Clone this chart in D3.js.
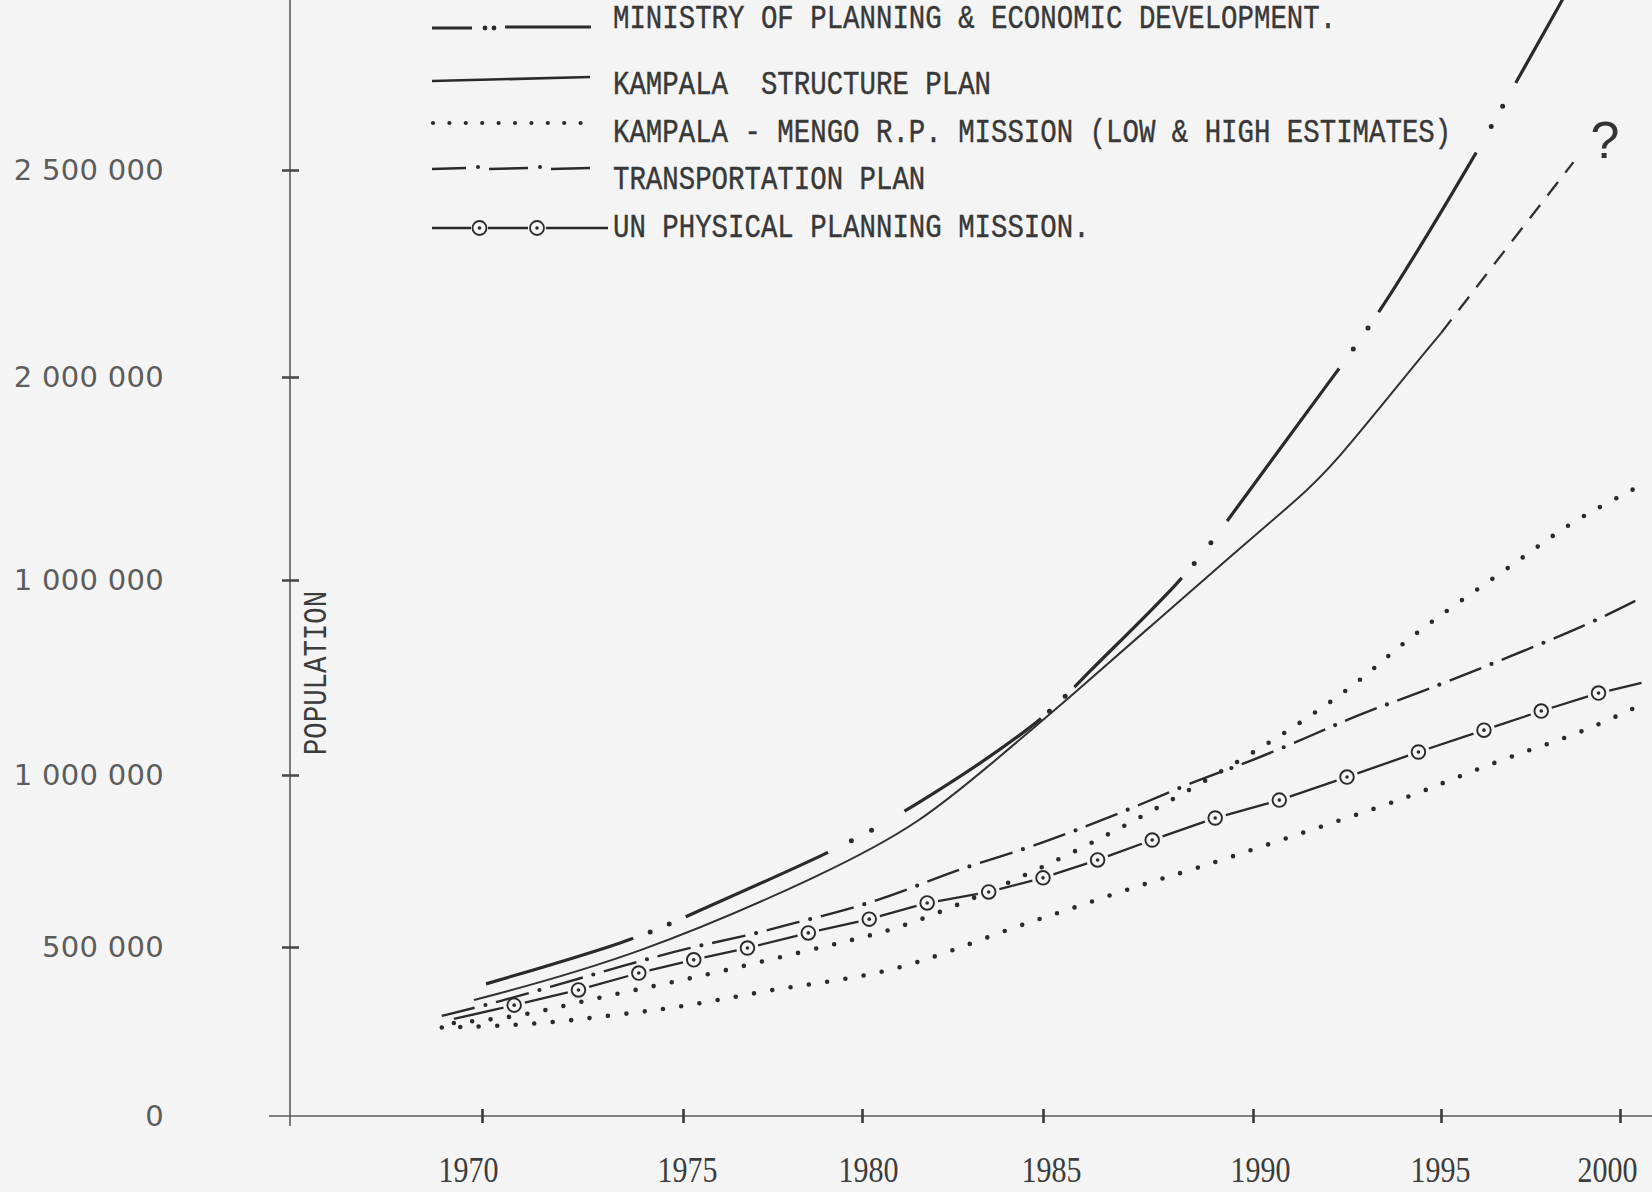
<!DOCTYPE html>
<html>
<head>
<meta charset="utf-8">
<script src="https://cdn.jsdelivr.net/npm/d3@7"></script>
<style>
html,body{margin:0;padding:0;background:#f4f4f4;}
svg{display:block;}
</style>
</head>
<body>
<svg id="chart" width="1652" height="1192"></svg>
<script>
// ---------------- DATA ----------------
const xTickYears  = [1970, 1975, 1980, 1985, 1990, 1995, 2000];
const xTickLabels = ["1970", "1975", "1980", "1985", "1990", "1995", "2000"];
const yTickValues = [0, 500000, 1000000, 1500000, 2000000, 2500000];
const yTickLabels = ["0", "500 000", "1 000 000", "1 000 000", "2 000 000", "2 500 000"];
const yAxisTitle  = "POPULATION";

const legendLabels = [
  "MINISTRY OF PLANNING & ECONOMIC DEVELOPMENT.",
  "KAMPALA  STRUCTURE PLAN",
  "KAMPALA - MENGO R.P. MISSION (LOW & HIGH ESTIMATES)",
  "TRANSPORTATION PLAN",
  "UN PHYSICAL PLANNING MISSION."
];

// Ministry of Planning & Economic Development
const ministryYears  = [1970.1, 1973.8, 1975.1, 1979.1, 1981.2, 1985.0, 1985.8, 1988.4, 1989.4, 1992.3, 1993.4, 1996.0, 1997.1, 1998.4, 1999.0];
const ministryValues = [391000, 520000, 590000, 773000, 890000, 1136000, 1236000, 1505000, 1648000, 2022000, 2157000, 2541000, 2713000, 2911000, 3010000];

// Kampala Structure Plan (solid part, then dashed uncertain part ending with "?")
const structureYears  = [1969.8, 1973.8, 1979.1, 1981.6, 1983.6, 1985.7, 1987.6, 1989.5, 1991.2, 1992.1, 1994.4, 1995.0];
const structureValues = [343000, 470000, 718000, 860000, 1031000, 1205000, 1385000, 1562000, 1700000, 1778000, 2041000, 2106000];
const structureDashYears  = [1995.0, 1996.9, 1998.7];
const structureDashValues = [2106000, 2319000, 2519000];

// Kampala - Mengo R.P. Mission, high estimate
const mengoHighYears  = [1969.3, 1970.9, 1972.3, 1973.8, 1975.4, 1977.4, 1979.5, 1981.2, 1983.8, 1985.7, 1987.2, 1988.7, 1990.2, 1991.3, 1992.9, 1993.9, 1995.5, 1997.2, 1998.5, 1999.8, 2000.6];
const mengoHighValues = [275000, 293000, 334000, 373000, 411000, 462000, 515000, 558000, 674000, 773000, 869000, 971000, 1069000, 1136000, 1244000, 1333000, 1444000, 1549000, 1635000, 1697000, 1734000];

// Kampala - Mengo R.P. Mission, low estimate
const mengoLowYears  = [1969.0, 1970.4, 1971.9, 1973.3, 1974.6, 1976.0, 1977.6, 1979.2, 1980.8, 1982.4, 1984.2, 1985.6, 1987.1, 1988.7, 1990.5, 1992.5, 1994.3, 1995.8, 1997.4, 1998.8, 2000.1, 2000.6];
const mengoLowValues = [262000, 266000, 278000, 299000, 317000, 343000, 376000, 399000, 429000, 485000, 558000, 608000, 672000, 730000, 802000, 875000, 942000, 1008000, 1062000, 1105000, 1159000, 1180000];

// Transportation Plan
const transportYears  = [1969.0, 1970.4, 1972.1, 1973.6, 1975.1, 1976.9, 1978.1, 1979.8, 1981.4, 1982.6, 1984.6, 1985.8, 1987.2, 1988.5, 1989.9, 1991.6, 1992.9, 1994.5, 1996.9, 1999.1, 2000.7];
const transportValues = [296000, 337000, 396000, 447000, 497000, 535000, 570000, 613000, 672000, 724000, 788000, 840000, 907000, 977000, 1033000, 1103000, 1159000, 1213000, 1303000, 1385000, 1459000];

// UN Physical Planning Mission (circled points)
const unYears  = [1969.3, 1970.8, 1972.4, 1973.9, 1975.3, 1976.8, 1978.5, 1980.2, 1981.8, 1983.5, 1985.0, 1986.3, 1987.6, 1989.1, 1990.7, 1992.5, 1994.4, 1996.2, 1997.8, 1999.4, 2000.6];
const unValues = [287000, 328000, 373000, 423000, 462000, 497000, 541000, 581000, 628000, 660000, 701000, 753000, 811000, 875000, 927000, 994000, 1059000, 1115000, 1164000, 1210000, 1236000];

// ---------------- CHART ----------------
const W = 1652, H = 1192;
const BG = "#f4f4f4", INK = "#2a2a2a", AXIS = "#5a5a5a";
const svg = d3.select("#chart");
svg.append("rect").attr("width", W).attr("height", H).attr("fill", BG);

// hand-drawn (uneven) axis spacing: piecewise linear scales through the drawn ticks
const x = d3.scaleLinear().domain(xTickYears).range([482, 683, 862, 1043, 1253, 1441, 1620]);
const y = d3.scaleLinear().domain(yTickValues).range([1116, 947, 775, 580, 377, 170]);
const X0 = 290, Y0 = 1116;

// axis lines
svg.append("line").attr("x1", X0).attr("x2", X0).attr("y1", 0).attr("y2", Y0 + 10)
  .attr("stroke", AXIS).attr("stroke-width", 1.6);
svg.append("line").attr("x1", 269).attr("x2", W).attr("y1", Y0).attr("y2", Y0)
  .attr("stroke", AXIS).attr("stroke-width", 1.6);

// y axis
const gy = svg.append("g").attr("transform", `translate(${X0},0)`)
  .call(d3.axisLeft(y).tickValues(yTickValues).tickFormat((d, i) => yTickLabels[i]).tickSize(0).tickPadding(126));
gy.select(".domain").remove();
gy.selectAll("text").attr("font-family", "'DejaVu Sans', sans-serif").attr("font-size", 29)
  .attr("fill", "#5c5c5c").attr("letter-spacing", 0.3);
gy.selectAll(".tick").filter(d => d > 0).append("line").attr("x1", -8).attr("x2", 9)
  .attr("stroke", "#4a4a4a").attr("stroke-width", 2.6);

// x axis (labels nudged as hand-lettered in the original)
const xLabelShift = [-14, 4, 6, 8, 7, -1, -13];
const gx = svg.append("g").attr("transform", `translate(0,${Y0})`)
  .call(d3.axisBottom(x).tickValues(xTickYears).tickFormat((d, i) => xTickLabels[i]).tickSize(0).tickPadding(41));
gx.select(".domain").remove();
gx.selectAll("text").attr("font-family", "'Liberation Serif', serif").attr("font-size", 35)
  .attr("fill", "#3c3c3c").attr("textLength", 60).attr("lengthAdjust", "spacingAndGlyphs")
  .attr("dx", (d, i) => xLabelShift[i]);
gx.selectAll(".tick").append("line").attr("y1", -7).attr("y2", 7)
  .attr("stroke", "#3a3a3a").attr("stroke-width", 2.6);

// y axis title
svg.append("text").attr("transform", `translate(316,673) rotate(-90) scale(1,1.2)`)
  .attr("text-anchor", "middle").attr("y", 8)
  .attr("font-family", "'Liberation Mono', monospace").attr("font-size", 27.4)
  .attr("fill", "#3c3c3c").text(yAxisTitle);

// ---------------- SERIES ----------------
const pts = (ys, vs) => ys.map((t, i) => ({ t: t, v: vs[i] }));
const line = d3.line().x(d => x(d.t)).y(d => y(d.v)).curve(d3.curveBasis);
const plot = svg.append("g");

// Kampala-Mengo low & high (dotted)
[pts(mengoLowYears, mengoLowValues), pts(mengoHighYears, mengoHighValues)].forEach(p => {
  plot.append("path").attr("d", line(p)).attr("fill", "none").attr("stroke", INK)
    .attr("stroke-width", 4.6).attr("stroke-linecap", "round").attr("stroke-dasharray", "0 18.5");
});

// Transportation plan (dash-dot)
const tp = pts(transportYears, transportValues);
plot.append("path").attr("d", line(tp)).attr("fill", "none").attr("stroke", INK)
  .attr("stroke-width", 2.4).attr("stroke-dasharray", "34 22");
plot.append("path").attr("d", line(tp)).attr("fill", "none").attr("stroke", INK)
  .attr("stroke-width", 4.2).attr("stroke-linecap", "round")
  .attr("stroke-dasharray", "0 56").attr("stroke-dashoffset", -45);

// UN physical planning mission (dash with circles)
const un = pts(unYears, unValues);
const gap = 11;
for (let i = 0; i < un.length - 1; i++) {
  const x1 = x(un[i].t), y1 = y(un[i].v), x2 = x(un[i + 1].t), y2 = y(un[i + 1].v);
  const L = Math.hypot(x2 - x1, y2 - y1), ux = (x2 - x1) / L, uy = (y2 - y1) / L;
  const g1 = i === 0 ? 0 : gap, g2 = (i + 1 === un.length - 1) ? 0 : gap;
  plot.append("line").attr("x1", x1 + ux * g1).attr("y1", y1 + uy * g1)
    .attr("x2", x2 - ux * g2).attr("y2", y2 - uy * g2)
    .attr("stroke", INK).attr("stroke-width", 2.3);
}
const unMarks = plot.selectAll("g.unmark").data(un.slice(1, un.length - 1)).join("g")
  .attr("transform", d => `translate(${x(d.t)},${y(d.v)})`);
unMarks.append("circle").attr("r", 6.8).attr("fill", BG).attr("stroke", INK).attr("stroke-width", 1.9);
unMarks.append("circle").attr("r", 1.8).attr("fill", INK);

// Kampala structure plan (thin solid, then dashed)
plot.append("path").attr("d", line(pts(structureYears, structureValues))).attr("fill", "none")
  .attr("stroke", "#303030").attr("stroke-width", 2);
plot.append("path").attr("d", line(pts(structureDashYears, structureDashValues))).attr("fill", "none")
  .attr("stroke", "#303030").attr("stroke-width", 2.3).attr("stroke-dasharray", "17 12");
svg.append("text").attr("x", 1605).attr("y", 158).attr("text-anchor", "middle")
  .attr("font-family", "'Liberation Sans', sans-serif").attr("font-size", 52)
  .attr("fill", "#333").text("?");

// Ministry (thick dash - dot - dot); hand-drawn dash lengths and gaps
const mo = pts(ministryYears, ministryValues);
const moSegs = [
  [154, 18, 21, 18], [156, 26, 23, 38], [165, 11, 22, 13], [153, 19, 27, 27],
  [189, 24, 26, 19], [187, 30, 23, 27], [220, 20, 20, 20]
];
const dashArr = [], dotPos = [];
let pos = 0;
moSegs.forEach(s => {
  dashArr.push(s[0], s[1] + s[2] + s[3]);
  dotPos.push(pos + s[0] + s[1], pos + s[0] + s[1] + s[2]);
  pos += s[0] + s[1] + s[2] + s[3];
});
const dotArr = [];
for (let i = 0; i < dotPos.length - 1; i++) dotArr.push(0, dotPos[i + 1] - dotPos[i]);
dotArr.push(0, 3000);
plot.append("path").attr("d", line(mo)).attr("fill", "none").attr("stroke", INK)
  .attr("stroke-width", 3.2).attr("stroke-dasharray", dashArr.concat([3000, 0]).join(" "));
plot.append("path").attr("d", line(mo)).attr("fill", "none").attr("stroke", INK)
  .attr("stroke-width", 5).attr("stroke-linecap", "round")
  .attr("stroke-dasharray", dotArr.join(" ")).attr("stroke-dashoffset", -dotPos[0]);

// ---------------- LEGEND ----------------
const leg = svg.append("g");
const textBaselines = [28, 94, 142, 189, 237];
legendLabels.forEach((s, i) => {
  leg.append("text").attr("transform", `translate(613,${textBaselines[i]}) scale(1,1.2)`)
    .attr("font-family", "'Liberation Mono', monospace").attr("font-size", 27.4)
    .attr("fill", "#383838").attr("stroke", "#383838").attr("stroke-width", 0.35)
    .style("white-space", "pre").text(s);
});
// sample 1: dash .. dash
leg.append("line").attr("x1", 432).attr("x2", 472).attr("y1", 28).attr("y2", 28).attr("stroke", INK).attr("stroke-width", 3.2);
[485, 494].forEach(cx => leg.append("circle").attr("cx", cx).attr("cy", 28).attr("r", 2.4).attr("fill", INK));
leg.append("line").attr("x1", 505).attr("x2", 591).attr("y1", 27).attr("y2", 27).attr("stroke", INK).attr("stroke-width", 3.2);
// sample 2: solid
leg.append("line").attr("x1", 432).attr("x2", 590).attr("y1", 81).attr("y2", 77).attr("stroke", INK).attr("stroke-width", 2.6);
// sample 3: dots
d3.range(10).forEach(k => leg.append("circle").attr("cx", 433 + k * 16.4).attr("cy", 123).attr("r", 2.1).attr("fill", INK));
// sample 4: dash-dot
[[432, 466], [489, 528], [551, 590]].forEach(s => leg.append("line").attr("x1", s[0]).attr("x2", s[1])
  .attr("y1", 169).attr("y2", 168).attr("stroke", INK).attr("stroke-width", 2.6));
[478, 540].forEach(cx => leg.append("circle").attr("cx", cx).attr("cy", 167).attr("r", 2).attr("fill", INK));
// sample 5: dash circle
[[432, 471], [488, 528], [546, 608]].forEach(s => leg.append("line").attr("x1", s[0]).attr("x2", s[1])
  .attr("y1", 228).attr("y2", 228).attr("stroke", INK).attr("stroke-width", 2.4));
[479.5, 537].forEach(cx => {
  leg.append("circle").attr("cx", cx).attr("cy", 228).attr("r", 7).attr("fill", BG).attr("stroke", INK).attr("stroke-width", 1.8);
  leg.append("circle").attr("cx", cx).attr("cy", 228).attr("r", 1.8).attr("fill", INK);
});
</script>
</body>
</html>
